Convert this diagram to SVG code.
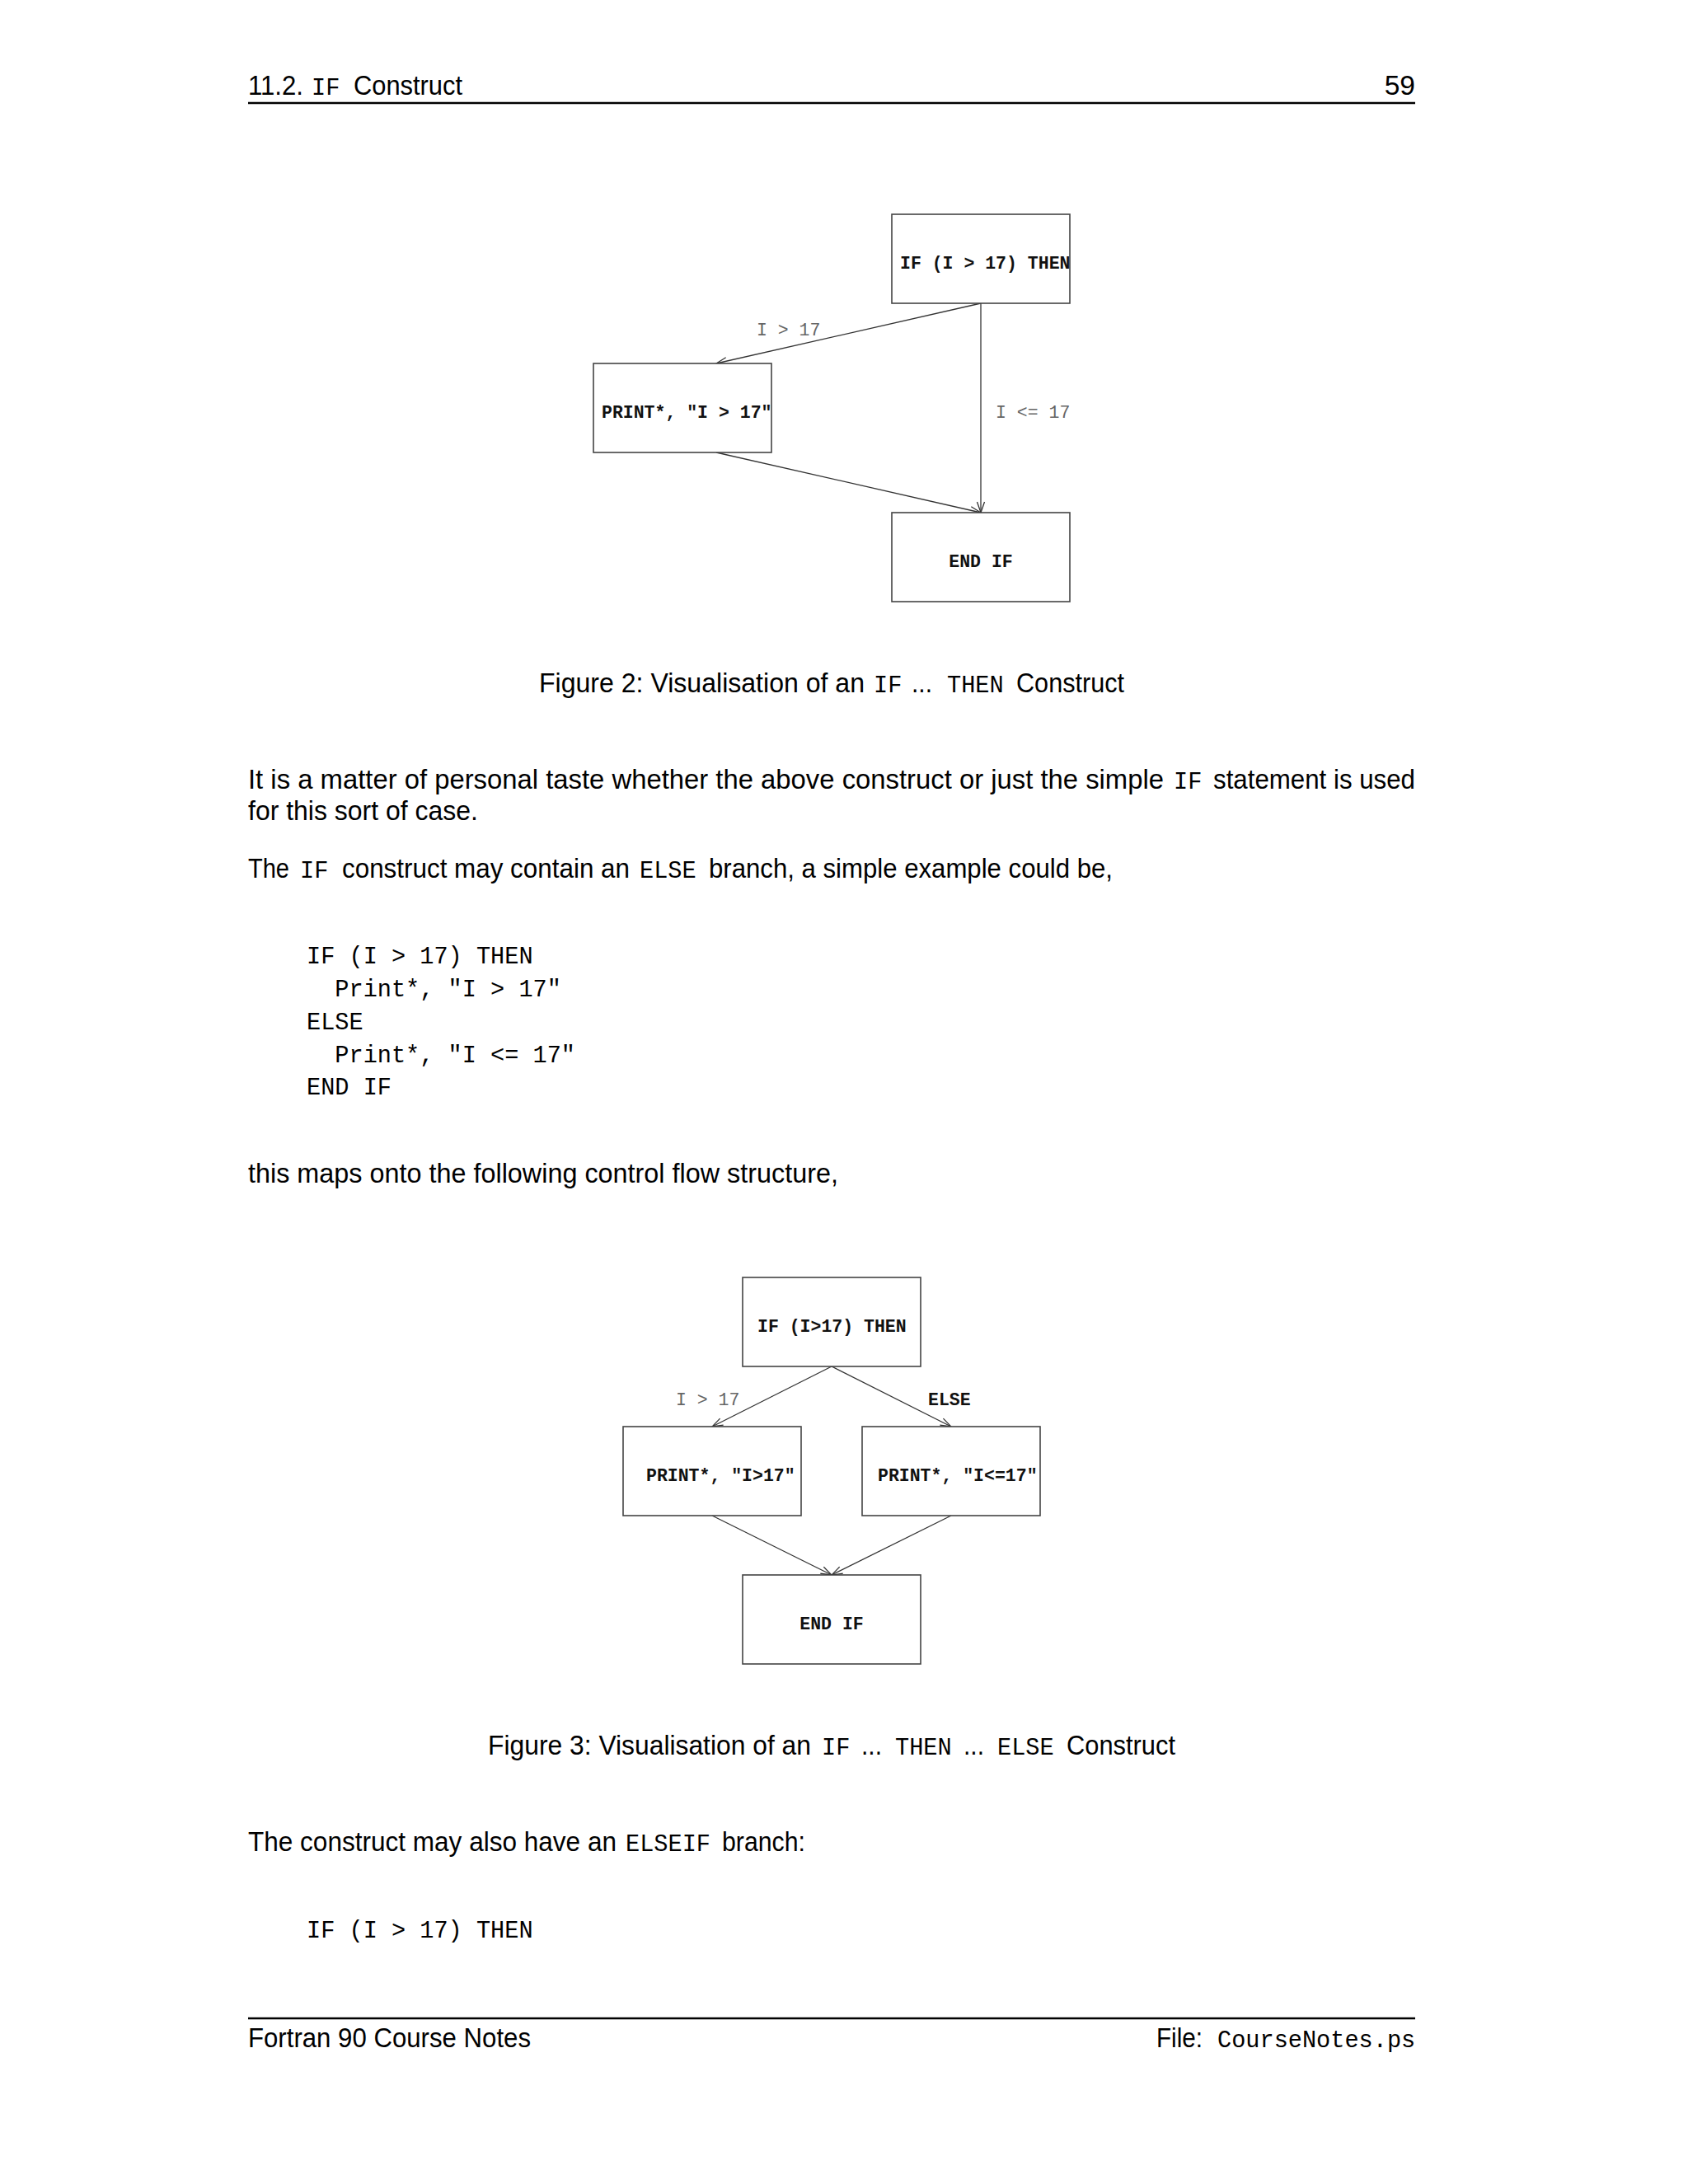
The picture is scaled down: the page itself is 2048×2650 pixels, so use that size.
<svg xmlns="http://www.w3.org/2000/svg" width="2048" height="2650" viewBox="0 0 2048 2650">
<style>
.s{font-family:"Liberation Sans",Arial,sans-serif;font-size:33.5px;fill:#000}
.m{font-family:"Liberation Mono","Courier New",monospace;font-size:28.6px;fill:#000}
.nb{font-family:"Liberation Mono","Courier New",monospace;font-size:21.5px;font-weight:bold;fill:#111}
.lb{font-family:"Liberation Mono","Courier New",monospace;font-size:21.5px;fill:#666}
.box{fill:#fff;stroke:#444;stroke-width:1.6}
.edge{fill:none;stroke:#333;stroke-width:1.3}
.rule{stroke:#000;stroke-width:2.5}
</style>
<defs>
<marker id="arr" markerUnits="userSpaceOnUse" viewBox="-15 -7 17 14" markerWidth="17" markerHeight="14" refX="0" refY="0" orient="auto">
<path d="M-13,-4.5 L0,0 L-13,4.5" fill="none" stroke="#333" stroke-width="1.3"/>
</marker>
</defs>
<rect width="2048" height="2650" fill="#fff"/>

<!-- header -->
<g id="header">
<text class="s" x="301" y="115" textLength="67" lengthAdjust="spacingAndGlyphs">11.2.</text>
<text class="m" x="378" y="115">IF</text>
<text class="s" x="429" y="115" textLength="132" lengthAdjust="spacingAndGlyphs">Construct</text>
<text class="s" x="1717" y="115" text-anchor="end">59</text>
<line class="rule" x1="301" y1="125" x2="1717" y2="125"/>
</g>

<!-- Figure 2 -->
<g id="fig2-edges">
<line class="edge" x1="1190" y1="368" x2="869" y2="441" marker-end="url(#arr)"/>
<line class="edge" x1="1190" y1="368" x2="1190" y2="622" marker-end="url(#arr)"/>
<line class="edge" x1="869" y1="549" x2="1190" y2="622" marker-end="url(#arr)"/>
<text class="lb" x="918" y="407">I &gt; 17</text>
<text class="lb" x="1208" y="507">I &lt;= 17</text>
</g>
<g id="f2-if">
<rect class="box" x="1082" y="260" width="216" height="108"/>
<text class="nb" x="1092" y="326">IF (I &gt; 17) THEN</text>
</g>
<g id="f2-print">
<rect class="box" x="720" y="441" width="216" height="108"/>
<text class="nb" x="730" y="507">PRINT*, "I &gt; 17"</text>
</g>
<g id="f2-endif">
<rect class="box" x="1082" y="622" width="216" height="108"/>
<text class="nb" x="1190" y="688" text-anchor="middle">END IF</text>
</g>

<g id="caption2">
<text class="s" x="654" y="840" textLength="395" lengthAdjust="spacingAndGlyphs">Figure 2: Visualisation of an</text>
<text class="m" x="1060" y="840">IF</text>
<text class="s" x="1106" y="840" textLength="25" lengthAdjust="spacingAndGlyphs">...</text>
<text class="m" x="1149" y="840">THEN</text>
<text class="s" x="1233" y="840" textLength="131" lengthAdjust="spacingAndGlyphs">Construct</text>
</g>

<!-- body -->
<g id="para1">
<text class="s" x="301" y="957" textLength="1111" lengthAdjust="spacingAndGlyphs">It is a matter of personal taste whether the above construct or just the simple</text>
<text class="m" x="1424" y="957">IF</text>
<text class="s" x="1472" y="957" textLength="245" lengthAdjust="spacingAndGlyphs">statement is used</text>
<text class="s" x="301" y="995" textLength="279" lengthAdjust="spacingAndGlyphs">for this sort of case.</text>
</g>
<g id="para2">
<text class="s" x="301" y="1065" textLength="50" lengthAdjust="spacingAndGlyphs">The</text>
<text class="m" x="364" y="1065">IF</text>
<text class="s" x="415" y="1065" textLength="349" lengthAdjust="spacingAndGlyphs">construct may contain an</text>
<text class="m" x="776" y="1065">ELSE</text>
<text class="s" x="860" y="1065" textLength="490" lengthAdjust="spacingAndGlyphs">branch, a simple example could be,</text>
</g>
<g id="code1">
<text class="m" x="372" y="1169" xml:space="preserve">IF (I &gt; 17) THEN</text>
<text class="m" x="372" y="1209" xml:space="preserve">  Print*, "I &gt; 17"</text>
<text class="m" x="372" y="1249" xml:space="preserve">ELSE</text>
<text class="m" x="372" y="1289" xml:space="preserve">  Print*, "I &lt;= 17"</text>
<text class="m" x="372" y="1328" xml:space="preserve">END IF</text>
</g>
<g id="para3">
<text class="s" x="301" y="1435" textLength="716" lengthAdjust="spacingAndGlyphs">this maps onto the following control flow structure,</text>
</g>

<!-- Figure 3 -->
<g id="fig3-edges">
<line class="edge" x1="1009" y1="1658" x2="864" y2="1731" marker-end="url(#arr)"/>
<line class="edge" x1="1009" y1="1658" x2="1154" y2="1731" marker-end="url(#arr)"/>
<line class="edge" x1="864" y1="1839" x2="1009" y2="1911" marker-end="url(#arr)"/>
<line class="edge" x1="1154" y1="1839" x2="1009" y2="1911" marker-end="url(#arr)"/>
<text class="lb" x="820" y="1705">I &gt; 17</text>
<text class="nb" x="1126" y="1705">ELSE</text>
</g>
<g id="f3-if">
<rect class="box" x="901" y="1550" width="216" height="108"/>
<text class="nb" x="919" y="1616">IF (I&gt;17) THEN</text>
</g>
<g id="f3-then">
<rect class="box" x="756" y="1731" width="216" height="108"/>
<text class="nb" x="784" y="1797">PRINT*, "I&gt;17"</text>
</g>
<g id="f3-else">
<rect class="box" x="1046" y="1731" width="216" height="108"/>
<text class="nb" x="1065" y="1797">PRINT*, "I&lt;=17"</text>
</g>
<g id="f3-endif">
<rect class="box" x="901" y="1911" width="216" height="108"/>
<text class="nb" x="1009" y="1977" text-anchor="middle">END IF</text>
</g>

<g id="caption3">
<text class="s" x="592" y="2129" textLength="392" lengthAdjust="spacingAndGlyphs">Figure 3: Visualisation of an</text>
<text class="m" x="997" y="2129">IF</text>
<text class="s" x="1045" y="2129" textLength="25" lengthAdjust="spacingAndGlyphs">...</text>
<text class="m" x="1086" y="2129">THEN</text>
<text class="s" x="1169" y="2129" textLength="25" lengthAdjust="spacingAndGlyphs">...</text>
<text class="m" x="1210" y="2129">ELSE</text>
<text class="s" x="1294" y="2129" textLength="132" lengthAdjust="spacingAndGlyphs">Construct</text>
</g>

<g id="para4">
<text class="s" x="301" y="2246" textLength="447" lengthAdjust="spacingAndGlyphs">The construct may also have an</text>
<text class="m" x="759" y="2246">ELSEIF</text>
<text class="s" x="876" y="2246" textLength="101" lengthAdjust="spacingAndGlyphs">branch:</text>
</g>
<g id="code2">
<text class="m" x="372" y="2351">IF (I &gt; 17) THEN</text>
</g>

<!-- footer -->
<g id="footer">
<line class="rule" x1="301" y1="2449" x2="1717" y2="2449"/>
<text class="s" x="301" y="2484" textLength="343" lengthAdjust="spacingAndGlyphs">Fortran 90 Course Notes</text>
<text class="s" x="1403" y="2484" textLength="56" lengthAdjust="spacingAndGlyphs">File:</text>
<text class="m" x="1477" y="2484">CourseNotes.ps</text>
</g>
</svg>
